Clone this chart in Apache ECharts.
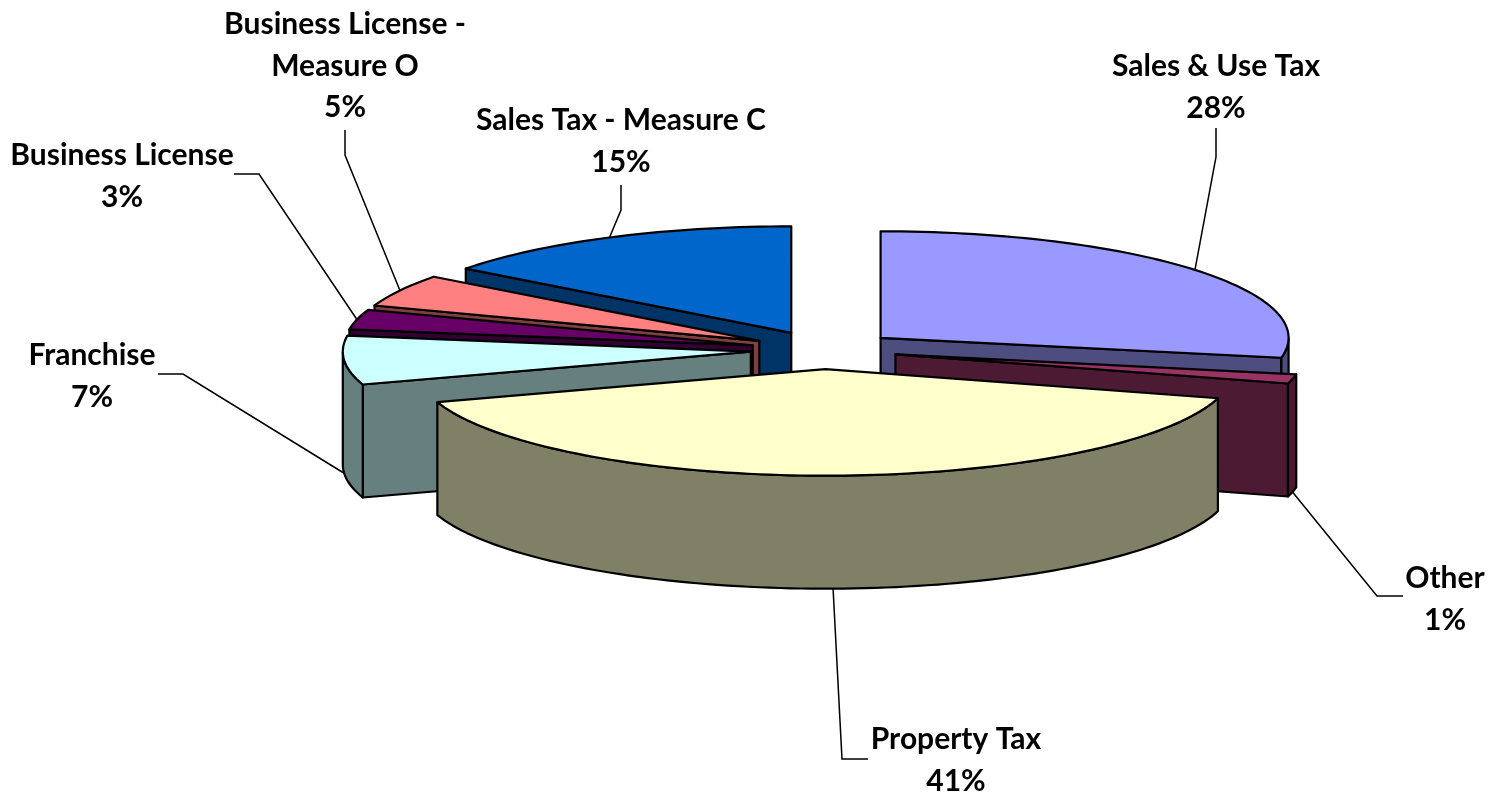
<!DOCTYPE html>
<html>
<head>
<meta charset="utf-8">
<style>html,body{margin:0;padding:0;background:#fff}#chart{width:1491px;height:794px}</style>
<script src="https://cdn.jsdelivr.net/npm/echarts@6/dist/echarts.min.js"></script>
</head>
<body>
<div id="chart"></div>
<script>
// Data, in clockwise order from twelve o'clock
var categories = ['Sales & Use Tax', 'Other', 'Property Tax', 'Franchise', 'Business License', 'Business License -\nMeasure O', 'Sales Tax - Measure C'];
var shares = [28, 1.4, 40.6, 7.4, 3, 4.9, 14.7];

// Styling
var topColors = ['#9999ff', '#993366', '#ffffcc', '#ccffff', '#660066', '#ff8080', '#0066cc'];
var sideColors = ['#4d4d80', '#4d1a33', '#808066', '#668080', '#330033', '#804040', '#003366'];

// Layout of the tilted pie
var CX = 824, CY = 350, RX = 408, RY = 106.5, DEPTH = 113, EXPLODE = 0.18;
var drawOrder = [6, 5, 4, 3, 0, 1, 2];
var labelAnchors = [[1216, 67], [1445, 579], [956, 740], [92, 356], [122, 156], [345, 25], [621, 121]];
var leaderBends = [
  [[1216, 157], [1216, 128]],
  [[1377, 596], [1403, 596]],
  [[842, 759], [868, 759]],
  [[183, 374], [158, 374]],
  [[259, 174], [234, 174]],
  [[345, 155], [345, 130]],
  [[621, 210], [621, 185]]
];

var FONT = 'Lato, Carlito, sans-serif';
var total = shares.reduce(function (a, b) { return a + b; }, 0);
var angles = [];
shares.reduce(function (acc, v) {
  var next = acc + v / total * 360;
  angles.push([acc, next]);
  return next;
}, 0);

function rad(d) { return d * Math.PI / 180; }
function apex(i) {
  var m = rad((angles[i][0] + angles[i][1]) / 2);
  return [CX + EXPLODE * RX * Math.sin(m), CY - EXPLODE * RY * Math.cos(m)];
}
function rim(i, deg, drop) {
  var c = apex(i), t = rad(deg);
  return [c[0] + RX * Math.sin(t), c[1] - RY * Math.cos(t) + (drop || 0)];
}
function arcPoints(i, a0, a1, drop) {
  var pts = [], n = Math.max(2, Math.ceil((a1 - a0) / 1.5));
  for (var k = 0; k <= n; k++) pts.push(rim(i, a0 + (a1 - a0) * k / n, drop));
  return pts;
}
function poly(points, fill) {
  return {
    type: 'polygon',
    shape: { points: points },
    style: { fill: fill, stroke: '#000', lineWidth: 2.2, lineJoin: 'round' }
  };
}
function cutFace(i, deg) {
  var c = apex(i);
  return poly([c, rim(i, deg), rim(i, deg, DEPTH), [c[0], c[1] + DEPTH]], sideColors[i]);
}

function renderSlice(params, api) {
  var i = api.value(0), a0 = angles[i][0], a1 = angles[i][1], kids = [];
  if (a0 > 180 && a0 < 360) kids.push(cutFace(i, a0));
  if (a1 > 0 && a1 < 180) kids.push(cutFace(i, a1));
  var w0 = Math.max(a0, 90), w1 = Math.min(a1, 270);
  if (w1 > w0) {
    kids.push(poly(arcPoints(i, w0, w1, 0).concat(arcPoints(i, w0, w1, DEPTH).reverse()), sideColors[i]));
  }
  kids.push(poly([apex(i)].concat(arcPoints(i, a0, a1, 0)), topColors[i]));
  return { type: 'group', children: kids };
}

function renderLabel(params, api) {
  var i = api.value(0);
  var mid = (angles[i][0] + angles[i][1]) / 2;
  var front = Math.cos(rad(mid)) < 0;
  var start = rim(i, mid, front ? DEPTH : 0);
  var text = categories[i] + '\n' + Math.round(shares[i]) + '%';
  return {
    type: 'group',
    children: [
      {
        type: 'polyline',
        shape: { points: [start].concat(leaderBends[i]) },
        style: { fill: null, stroke: '#000', lineWidth: 1.5 }
      },
      {
        type: 'text',
        style: {
          x: labelAnchors[i][0],
          y: labelAnchors[i][1] - 21,
          text: text,
          align: 'center',
          verticalAlign: 'top',
          font: 'bold 30px ' + FONT,
          lineHeight: 41.5,
          fill: '#000'
        }
      }
    ]
  };
}

var chart = echarts.init(document.getElementById('chart'), null, { renderer: 'canvas' });
chart.setOption({
  animation: false,
  backgroundColor: '#fff',
  series: [
    { type: 'custom', coordinateSystem: 'none', renderItem: renderSlice, data: drawOrder.map(function (i) { return [i]; }), silent: true, z: 2 },
    { type: 'custom', coordinateSystem: 'none', renderItem: renderLabel, data: drawOrder.map(function (i) { return [i]; }), silent: true, z: 3 }
  ]
});
</script>
</body>
</html>
